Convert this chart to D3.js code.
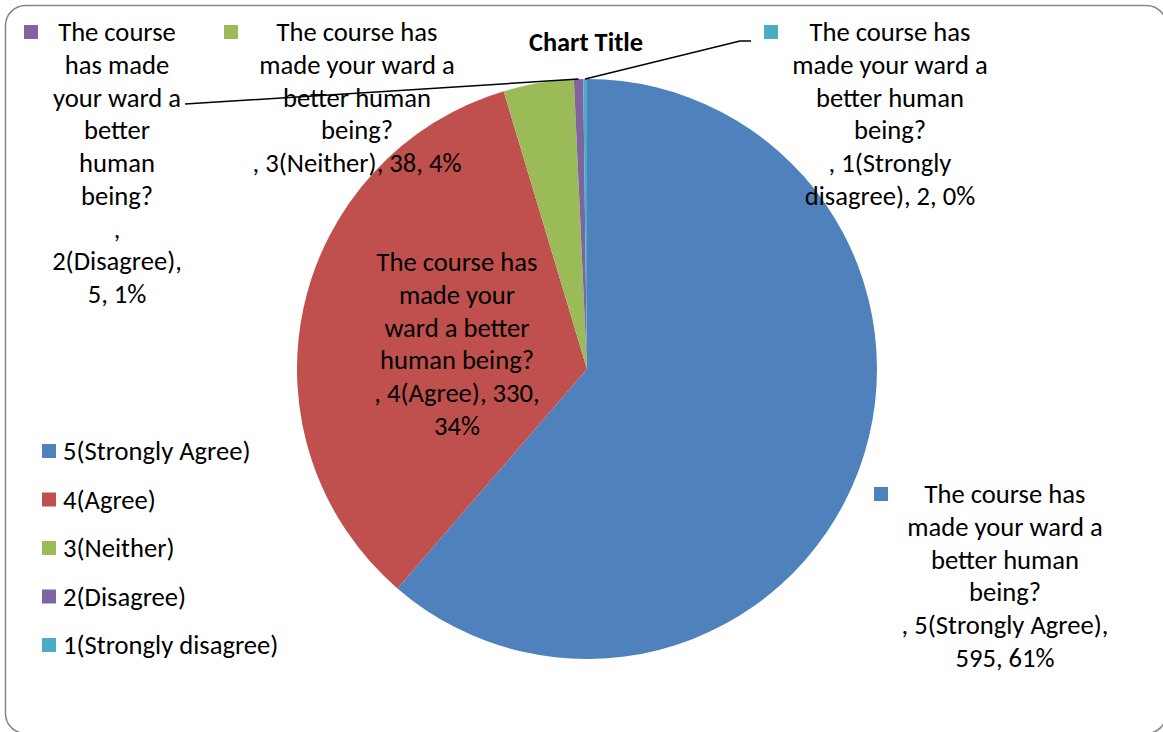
<!DOCTYPE html>
<html><head><meta charset="utf-8">
<script src="https://cdn.jsdelivr.net/npm/d3@7"></script>
<style>
html,body{margin:0;padding:0;background:#fff;}
text{font-family:Carlito,Lato,"Liberation Sans",sans-serif;}
</style></head>
<body>
<svg id="chart" width="1163" height="732"></svg>
<script>
const question = "The course has made your ward a better human being?";
const categories = ["5(Strongly Agree)","4(Agree)","3(Neither)","2(Disagree)","1(Strongly disagree)"];
const values = [595, 330, 38, 5, 2];
const percents = ["61%","34%","4%","1%","0%"];
const colors = ["#4F81BD","#C0504D","#9BBB59","#8064A2","#4BACC6"];
const labelLines = [
  ["The course has","made your ward a","better human","being?",", 5(Strongly Agree),","595, 61%"],
  ["The course has","made your","ward a better","human being?",", 4(Agree), 330,","34%"],
  ["The course has","made your ward a","better human","being?",", 3(Neither), 38, 4%"],
  ["The course","has made","your ward a","better","human","being?",",","2(Disagree),","5, 1%"],
  ["The course has","made your ward a","better human","being?",", 1(Strongly","disagree), 2, 0%"]
];

const svg = d3.select("#chart");
const fs = 26.6, lh = 32.7;

svg.append("rect").attr("x",5.5).attr("y",5.5).attr("width",1161).attr("height",728)
  .attr("rx",20).attr("fill","#fff").attr("stroke","#868686").attr("stroke-width",1.5);

const cx = 587, cy = 369, R = 290;
const pie = d3.pie().sort(null).value(d=>d);
const arcs = pie(values);
const arc = d3.arc().innerRadius(0).outerRadius(R);
const g = svg.append("g").attr("transform",`translate(${cx},${cy})`);
g.selectAll("path").data(arcs).enter().append("path")
  .attr("d",arc).attr("fill",(d,i)=>colors[i]);

// title
svg.append("text").attr("x",586).attr("y",42).attr("dy","0.35em").attr("text-anchor","middle")
  .attr("font-weight","bold").attr("font-size",26.4).attr("fill","#000").text("Chart Title");

// leader lines
const outer = d3.arc().innerRadius(R).outerRadius(R);
const pPurple = outer.centroid(arcs[3]);
const pCyan = outer.centroid(arcs[4]);
svg.append("polyline").attr("fill","none").attr("stroke","#000").attr("stroke-width",1.5)
  .attr("points",`${cx+pPurple[0]},${cy+pPurple[1]} 185,104`);
svg.append("polyline").attr("fill","none").attr("stroke","#000").attr("stroke-width",1.5)
  .attr("points",`${cx+pCyan[0]},${cy+pCyan[1]} 740,41 751,41`);

// data labels
const labelPos = [
  {x:1005, y:494, mx:874, my:487, marker:true},
  {x:457, y:262, marker:false},
  {x:357, y:32, mx:224, my:25, marker:true},
  {x:117, y:32, mx:24, my:25, marker:true},
  {x:890, y:32, mx:764, my:25, marker:true}
];
labelLines.forEach((lines,i)=>{
  const p = labelPos[i];
  if(p.marker){
    svg.append("rect").attr("x",p.mx).attr("y",p.my).attr("width",14).attr("height",14).attr("fill",colors[i]);
  }
  const t = svg.append("text").attr("text-anchor","middle").attr("font-size",fs).attr("fill","#000");
  lines.forEach((s,k)=>{
    t.append("tspan").attr("x",p.x).attr("y",p.y+k*lh).attr("dy","0.35em").text(s);
  });
});

// legend
const lg = svg.append("g");
categories.forEach((c,i)=>{
  const y = 451 + i*48.5;
  lg.append("rect").attr("x",42).attr("y",y-7).attr("width",14).attr("height",14).attr("fill",colors[i]);
  lg.append("text").attr("x",63).attr("y",y).attr("dy","0.35em").attr("font-size",fs).attr("fill","#000").text(c);
});
</script>
</body></html>
